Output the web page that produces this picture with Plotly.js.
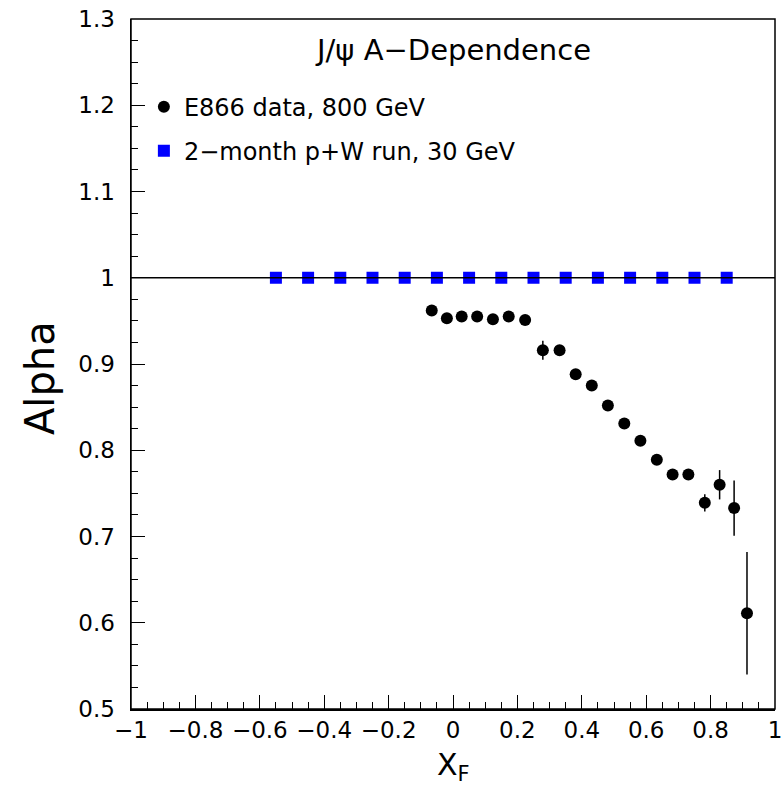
<!DOCTYPE html>
<html>
<head>
<meta charset="utf-8">
<script src="https://cdn.plot.ly/plotly-3.0.1.min.js"></script>
<style>html,body{margin:0;padding:0;background:#fff;}#chart{width:784px;height:786px;}</style>
</head>
<body>
<div id="chart"></div>
<script>
// E866 data, 800 GeV
const e866X = [-0.066, -0.019, 0.027, 0.075, 0.124, 0.173, 0.224, 0.279, 0.331, 0.381, 0.431, 0.481, 0.532, 0.582, 0.633, 0.682, 0.731, 0.782, 0.828, 0.873, 0.913];
const e866Alpha = [0.962, 0.953, 0.955, 0.955, 0.952, 0.955, 0.951, 0.916, 0.916, 0.888, 0.875, 0.852, 0.831, 0.811, 0.789, 0.772, 0.772, 0.739, 0.760, 0.733, 0.611];
const e866Err = [0.004, 0.004, 0.004, 0.004, 0.004, 0.004, 0.004, 0.011, 0.005, 0.005, 0.005, 0.005, 0.005, 0.005, 0.005, 0.005, 0.005, 0.010, 0.017, 0.032, 0.071];

// projected 2-month p+W run, 30 GeV
const pwX = [-0.55, -0.45, -0.35, -0.25, -0.15, -0.05, 0.05, 0.15, 0.25, 0.35, 0.45, 0.55, 0.65, 0.75, 0.85];
const pwAlpha = [1, 1, 1, 1, 1, 1, 1, 1, 1, 1, 1, 1, 1, 1, 1];
const pwErr = [0.003, 0.003, 0.003, 0.003, 0.003, 0.003, 0.003, 0.003, 0.003, 0.003, 0.003, 0.003, 0.003, 0.003, 0.003];

const xTickVals = [-1, -0.8, -0.6, -0.4, -0.2, 0, 0.2, 0.4, 0.6, 0.8, 1];
const xTickText = ['\u22121', '\u22120.8', '\u22120.6', '\u22120.4', '\u22120.2', '0', '0.2', '0.4', '0.6', '0.8', '1'];
const yTickVals = [0.5, 0.6, 0.7, 0.8, 0.9, 1, 1.1, 1.2, 1.3];
const yTickText = ['0.5', '0.6', '0.7', '0.8', '0.9', '1', '1.1', '1.2', '1.3'];

const FONT = 'DejaVu Sans, sans-serif';

const traces = [
  {
    x: e866X, y: e866Alpha, type: 'scatter', mode: 'markers',
    name: 'E866 data, 800 GeV', legendgroup: 'a',
    marker: {symbol: 'circle', size: 12, color: '#000000'},
    error_y: {type: 'data', array: e866Err, visible: true, color: '#000000', thickness: 1.5, width: 0}
  },
  {
    x: pwX, y: pwAlpha, type: 'scatter', mode: 'markers',
    name: '2\u2212month p+W run, 30 GeV', legendgroup: 'b',
    marker: {symbol: 'square', size: 12, color: '#0000ff'},
    error_y: {type: 'data', array: pwErr, visible: true, color: '#0000ff', thickness: 1.5, width: 0}
  }
];

const layout = {
  width: 784, height: 786,
  margin: {l: 131, r: 9, t: 19, b: 77},
  paper_bgcolor: '#ffffff', plot_bgcolor: '#ffffff',
  showlegend: true,
  legend: {
    x: 0.02, y: 0.905, xanchor: 'left', yanchor: 'top',
    bgcolor: 'rgba(0,0,0,0)', borderwidth: 0,
    font: {family: FONT, size: 24, color: '#000'},
    tracegroupgap: 10, itemsizing: 'trace'
  },
  xaxis: {
    range: [-1, 1], showgrid: false, zeroline: false,
    tickmode: 'array', tickvals: xTickVals, ticktext: xTickText,
    ticks: 'inside', ticklen: 14, tickwidth: 1, tickcolor: '#000',
    minor: {dtick: 0.05, tick0: 0, ticks: 'inside', ticklen: 7, tickwidth: 1, tickcolor: '#000', showgrid: false},
    showline: true, linecolor: '#000', linewidth: 1.5, mirror: false,
    tickfont: {family: FONT, size: 23, color: '#000'}
  },
  yaxis: {
    range: [0.5, 1.3], showgrid: false, zeroline: false,
    tickmode: 'array', tickvals: yTickVals, ticktext: yTickText,
    ticks: 'inside', ticklen: 14, tickwidth: 1, tickcolor: '#000',
    minor: {dtick: 0.025, tick0: 0.5, ticks: 'inside', ticklen: 7, tickwidth: 1, tickcolor: '#000', showgrid: false},
    showline: true, linecolor: '#000', linewidth: 1.5, mirror: false,
    tickfont: {family: FONT, size: 23, color: '#000'},
    ticklabelstandoff: 10
  },
  shapes: [
    {type: 'rect', xref: 'paper', yref: 'paper', x0: 0, x1: 1, y0: 0, y1: 1,
     line: {color: '#000', width: 1.5}, fillcolor: 'rgba(0,0,0,0)', layer: 'above'},
    {type: 'line', xref: 'paper', x0: 0, x1: 1, yref: 'y', y0: 1, y1: 1,
     line: {color: '#000', width: 1.5}, layer: 'above'}
  ],
  annotations: [
    {text: 'J/\u03c8 A\u2212Dependence', xref: 'paper', yref: 'paper', x: 0.5, y: 0.955,
     xanchor: 'center', yanchor: 'middle', showarrow: false,
     font: {family: FONT, size: 29, color: '#000'}},
    {text: 'Alpha', xref: 'paper', yref: 'paper', x: -0.141, y: 0.48,
     xanchor: 'center', yanchor: 'middle', textangle: -90, showarrow: false,
     font: {family: FONT, size: 40, color: '#000'}},
    {text: 'X<sub>F</sub>', xref: 'paper', yref: 'paper', x: 0.5, y: -0.083,
     xanchor: 'center', yanchor: 'middle', showarrow: false,
     font: {family: FONT, size: 30, color: '#000'}}
  ]
};

Plotly.newPlot('chart', traces, layout, {displayModeBar: false, staticPlot: true});
</script>
</body>
</html>
